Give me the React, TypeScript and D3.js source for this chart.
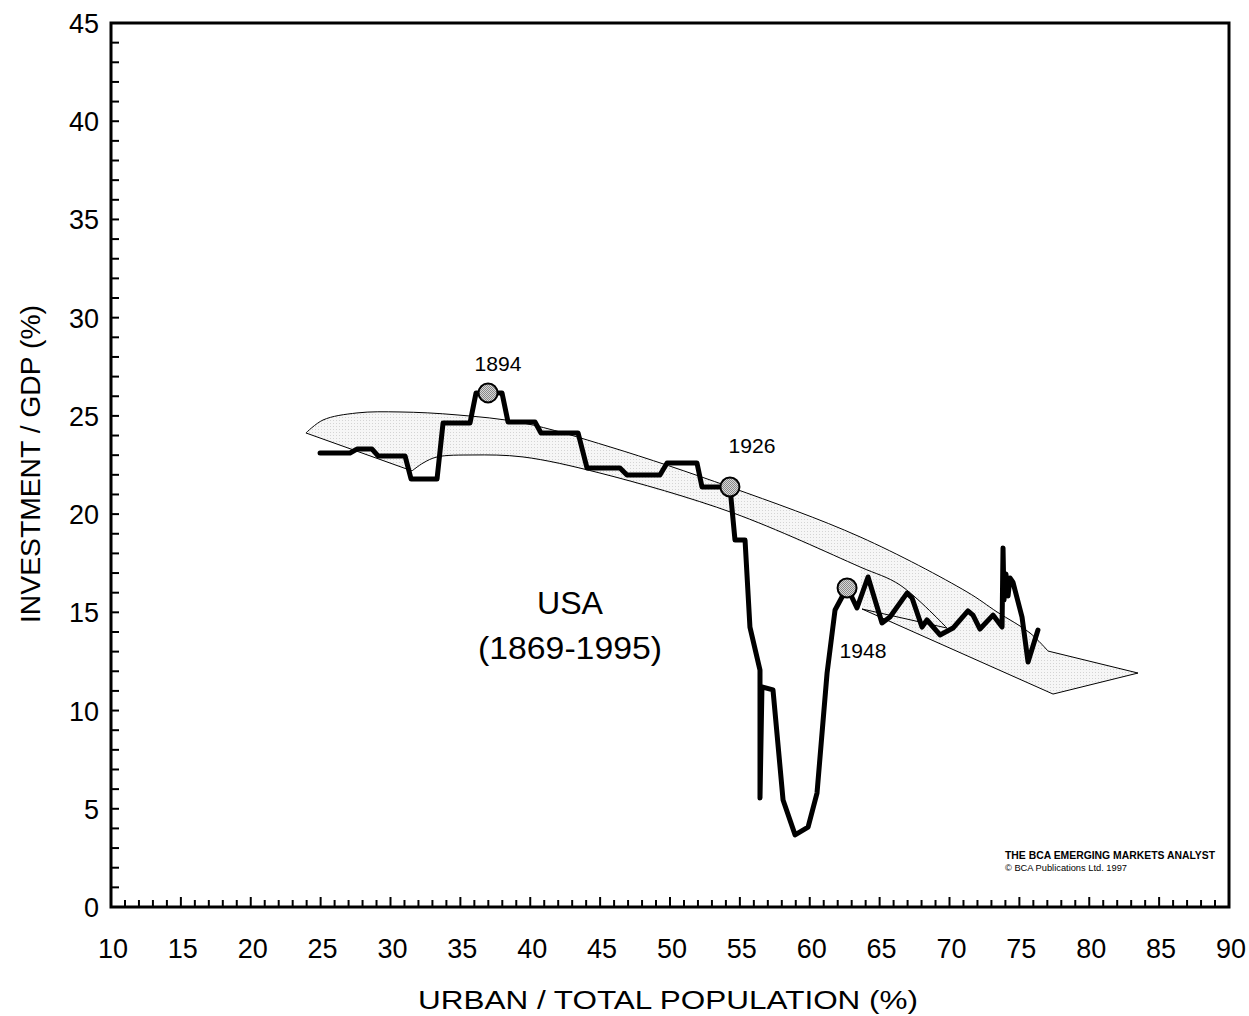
import React from "react";
import * as d3 from "d3";

const W = 1249;
const H = 1016;

// Main series: urban/total population (%) vs investment/GDP (%)
const urbanPct = [
  24.96, 27.1, 27.6, 28.68, 29.11, 31.04, 31.47, 33.33, 33.76, 35.69, 36.12, 37.98, 38.41, 40.34, 40.77, 43.42,
  44.06, 46.42, 46.92, 49.28, 49.79, 51.93, 52.29, 54.29, 54.65, 55.37, 55.72, 56.44, 56.44, 56.58, 57.37,
  58.09, 58.95, 59.88, 60.52, 61.24, 61.81, 62.31, 62.67, 63.38, 64.17, 65.17, 65.74, 66.96, 67.32, 68.03,
  68.39, 69.32, 70.25, 71.32, 71.68, 72.18, 73.11, 73.76, 73.83, 73.9, 74.04, 74.19, 74.33, 74.54, 75.19,
  75.62, 76.33,
];
const investGdp = [
  23.11, 23.11, 23.31, 23.31, 22.96, 22.96, 21.79, 21.79, 24.64, 24.64, 26.17, 26.17, 24.69, 24.69, 24.13, 24.13,
  22.35, 22.35, 21.99, 21.99, 22.6, 22.6, 21.38, 21.38, 18.68, 18.68, 14.25, 12.06, 5.55, 11.2, 11.05,
  5.45, 3.67, 4.07, 5.8, 11.91, 15.12, 15.78, 16.29, 15.22, 16.8, 14.46, 14.76, 15.98, 15.73, 14.25,
  14.61, 13.85, 14.2, 15.07, 14.86, 14.15, 14.86, 14.25, 18.28, 15.63, 16.95, 15.83, 16.75, 16.54, 14.76,
  12.47, 14.1,
];

// Band boundaries
const bandUpperX = [23.95, 25.17, 27.6, 30.68, 34.76, 39.48, 45.71, 54.29, 63.6, 71.25, 73.4, 75.76, 77.05];
const bandUpperY = [24.13, 24.79, 25.15, 25.2, 25.05, 24.64, 23.42, 21.38, 18.84, 16.04, 15.02, 13.95, 13.03];
const bandTipX = [77.05, 83.49];
const bandTipY = [13.03, 11.91];
const bandEdgeX = [23.95, 31.54];
const bandEdgeY = [24.13, 22.2];
const bandInnerX = [31.54, 32.33, 33.33, 35.9, 39.48, 44.99, 54.51, 63.6, 66.46, 69.82];
const bandInnerY = [22.2, 22.6, 22.91, 23.01, 22.91, 22.09, 20.06, 17.31, 16.39, 14.2];
const bandShortX = [63.74, 69.82];
const bandShortY = [15.17, 14.2];
const bandLowerX = [63.74, 77.41, 83.49];
const bandLowerY = [15.17, 10.84, 11.91];

// Highlighted years
const markYears = ["1894", "1926", "1948"];
const markX = [36.98, 54.29, 62.67];
const markY = [26.17, 21.38, 16.24];

const xTicks = [10, 15, 20, 25, 30, 35, 40, 45, 50, 55, 60, 65, 70, 75, 80, 85, 90];
const yTicks = [0, 5, 10, 15, 20, 25, 30, 35, 40, 45];

const FONT = "'Liberation Sans', Arial, sans-serif";

export default function App() {
  const x = d3.scaleLinear().domain([10, 90]).range([111, 1229]);
  const y = d3.scaleLinear().domain([0, 45]).range([907, 23]);

  const zip = (a: number[], b: number[]) => a.map((v, i) => [v, b[i]] as [number, number]);

  const straight = d3
    .line<[number, number]>()
    .x((d) => x(d[0]))
    .y((d) => y(d[1]));
  const smooth = d3
    .line<[number, number]>()
    .x((d) => x(d[0]))
    .y((d) => y(d[1]))
    .curve(d3.curveCatmullRom.alpha(0.5));

  const upper = zip(bandUpperX, bandUpperY);
  const tip = zip(bandTipX, bandTipY);
  const edge = zip(bandEdgeX, bandEdgeY);
  const inner = zip(bandInnerX, bandInnerY);
  const shortL = zip(bandShortX, bandShortY);
  const lower = zip(bandLowerX, bandLowerY);
  const main = zip(urbanPct, investGdp);

  const upperD = smooth(upper) ?? "";
  const innerD = smooth(inner) ?? "";

  const polyPts: [number, number][] = [
    ...upper,
    ...tip.slice(1),
    ...lower.slice(0, 2).reverse(),
    ...inner.filter((p) => p[0] <= 63.6).reverse(),
  ];
  const polyD =
    d3
      .line<[number, number]>()
      .x((d) => x(d[0]))
      .y((d) => y(d[1]))
      .curve(d3.curveLinearClosed)(polyPts) ?? "";

  const minorX = d3.range(10, 91, 1);
  const minorY = d3.range(0, 46, 1);

  return (
    <svg
      width={W}
      height={H}
      style={{ position: "absolute", left: 0, top: 0, background: "#fff" }}
      fontFamily={FONT}
    >
      <defs>
        <pattern id="dots" width="3" height="3" patternUnits="userSpaceOnUse">
          <rect width="3" height="3" fill="#f6f6f6" />
          <rect width="1" height="1" fill="#d4d4d4" />
        </pattern>
        <pattern id="dots2" width="2" height="2" patternUnits="userSpaceOnUse">
          <rect width="2" height="2" fill="#d8d8d8" />
          <rect width="1" height="1" fill="#888" />
          <rect x="1" y="1" width="1" height="1" fill="#888" />
        </pattern>
      </defs>

      {/* band */}
      <path d={polyD} fill="url(#dots)" stroke="none" />
      <path d={upperD} fill="none" stroke="#000" strokeWidth={1} />
      <path d={straight(tip) ?? ""} fill="none" stroke="#000" strokeWidth={1} />
      <path d={straight(edge) ?? ""} fill="none" stroke="#000" strokeWidth={1} />
      <path d={innerD} fill="none" stroke="#000" strokeWidth={1} />
      <path d={straight(shortL) ?? ""} fill="none" stroke="#000" strokeWidth={1} />
      <path d={straight(lower) ?? ""} fill="none" stroke="#000" strokeWidth={1} />

      {/* main line */}
      <path
        d={straight(main) ?? ""}
        fill="none"
        stroke="#000"
        strokeWidth={5}
        strokeLinejoin="round"
        strokeLinecap="round"
      />

      {/* markers */}
      {markX.map((mx, i) => (
        <circle key={i} cx={x(mx)} cy={y(markY[i])} r={9.5} fill="url(#dots2)" stroke="#000" strokeWidth={2} />
      ))}
      <text x={x(markX[0]) + 10} y={y(markY[0]) - 22} fontSize={21} textAnchor="middle" textLength={47} lengthAdjust="spacingAndGlyphs">
        {markYears[0]}
      </text>
      <text x={x(markX[1]) + 22} y={y(markY[1]) - 34} fontSize={21} textAnchor="middle" textLength={47} lengthAdjust="spacingAndGlyphs">
        {markYears[1]}
      </text>
      <text x={x(markX[2]) + 16} y={y(markY[2]) + 70} fontSize={21} textAnchor="middle" textLength={47} lengthAdjust="spacingAndGlyphs">
        {markYears[2]}
      </text>

      {/* annotation */}
      <text x={570} y={614} fontSize={32} textAnchor="middle" textLength={66} lengthAdjust="spacingAndGlyphs">
        USA
      </text>
      <text x={570} y={659} fontSize={32} textAnchor="middle" textLength={184} lengthAdjust="spacingAndGlyphs">
        (1869-1995)
      </text>

      <text x={1005} y={859} fontSize={10} fontWeight="bold" textLength={210} lengthAdjust="spacingAndGlyphs">
        THE BCA EMERGING MARKETS ANALYST
      </text>
      <text x={1005} y={871} fontSize={9} textLength={122} lengthAdjust="spacingAndGlyphs">
        ©  BCA Publications Ltd. 1997
      </text>

      {/* ticks */}
      {minorX.map((t) => (
        <line
          key={"xt" + t}
          x1={x(t)}
          x2={x(t)}
          y1={y(0)}
          y2={y(0) - (t % 5 === 0 ? 10 : 7)}
          stroke="#000"
          strokeWidth={2}
        />
      ))}
      {minorY.map((t) => (
        <line key={"yt" + t} x1={x(10)} x2={x(10) + 8} y1={y(t)} y2={y(t)} stroke="#000" strokeWidth={2} />
      ))}

      {/* frame */}
      <rect x={x(10)} y={y(45)} width={x(90) - x(10)} height={y(0) - y(45)} fill="none" stroke="#000" strokeWidth={3} />

      {/* tick labels */}
      {xTicks.map((t) => (
        <text key={"xl" + t} x={x(t) + 2} y={958} fontSize={27} textAnchor="middle">
          {t}
        </text>
      ))}
      {yTicks.map((t) => (
        <text key={"yl" + t} x={99} y={y(t) + 10} fontSize={27} textAnchor="end">
          {t}
        </text>
      ))}

      {/* axis titles */}
      <text x={668} y={1009} fontSize={26} textAnchor="middle" textLength={500} lengthAdjust="spacingAndGlyphs">
        URBAN / TOTAL POPULATION (%)
      </text>
      <text
        transform={`translate(40,464) rotate(-90)`}
        fontSize={27}
        textAnchor="middle"
        textLength={318}
        lengthAdjust="spacingAndGlyphs"
      >
        INVESTMENT / GDP (%)
      </text>
    </svg>
  );
}
